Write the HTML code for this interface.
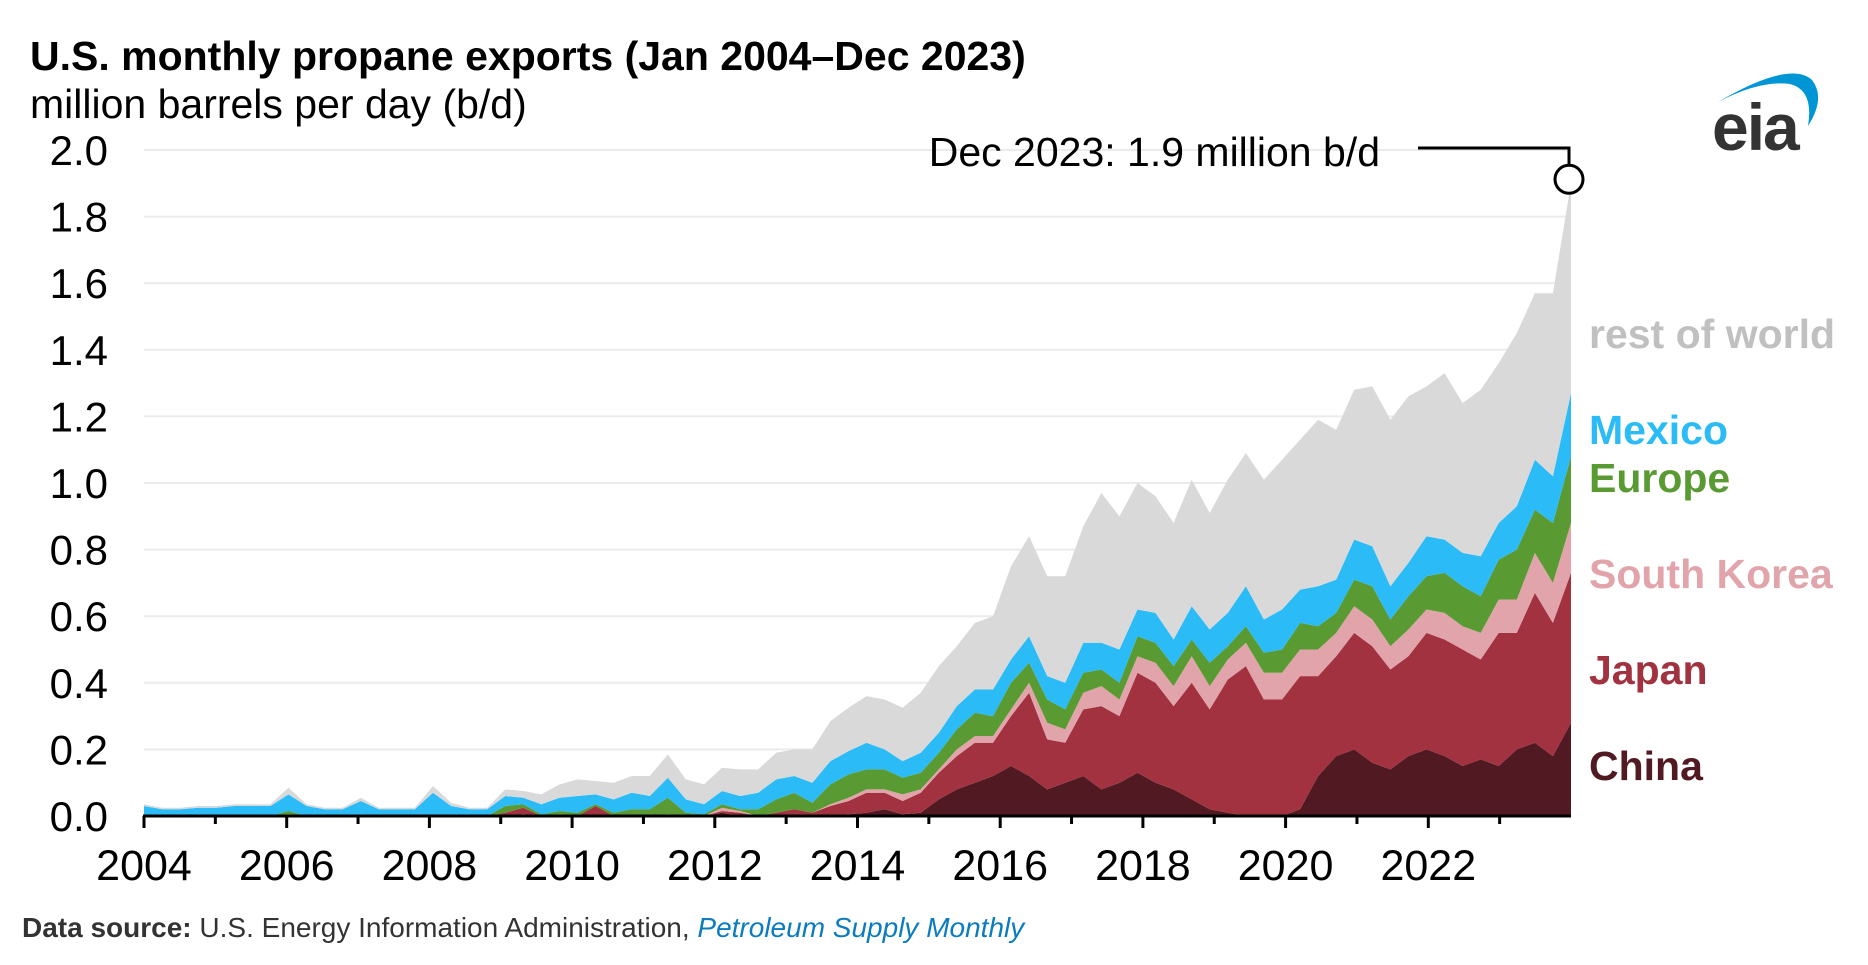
<!DOCTYPE html>
<html><head><meta charset="utf-8"><style>
html,body{margin:0;padding:0;background:#fff;}
body{width:1868px;height:960px;overflow:hidden;font-family:"Liberation Sans",Arial,sans-serif;}
svg text{font-family:"Liberation Sans",Arial,sans-serif;}
</style></head><body>
<svg id="chart" width="1868" height="960" viewBox="0 0 1868 960" xmlns="http://www.w3.org/2000/svg">
<text x="30" y="70" font-size="41" font-weight="bold" fill="#000">U.S. monthly propane exports (Jan 2004–Dec 2023)</text>
<text x="30" y="118" font-size="41" fill="#000">million barrels per day (b/d)</text>
<g id="grid"></g>
<g id="areas"></g>
<g id="yticks"></g>
<g id="xticks"></g>
<g id="labels"></g>
<g>
<path d="M1718 102 Q1790 60 1812 80 Q1826 98 1808 126 Q1814 90 1790 84 Q1760 80 1718 102 Z" fill="#0096d6"/>
<text x="1712" y="150" font-size="66" font-weight="bold" fill="#333" letter-spacing="-2">eia</text>
</g>
<text x="22" y="937" font-size="28" fill="#333"><tspan font-weight="bold">Data source:</tspan> U.S. Energy Information Administration, <tspan font-style="italic" fill="#0a7cbf">Petroleum Supply Monthly</tspan></text>
<g id="annot"></g>
</svg>
<script>
// quarterly values, 2004Q1 .. 2023Q4 (million b/d)
const china = [0,0,0,0, 0,0,0,0, 0,0,0,0, 0,0,0,0, 0,0,0,0,
 0,0.005,0,0, 0,0,0,0, 0,0,0,0, 0.01,0,0,0, 0,0,0,0.005,
 0.01,0.02,0.005,0.01, 0.05,0.08,0.1,0.12, 0.15,0.12,0.08,0.1, 0.12,0.08,0.1,0.13, 0.1,0.08,0.05,0.02,
 0.01,0,0,0, 0.02,0.12,0.18,0.2, 0.16,0.14,0.18,0.2, 0.18,0.15,0.17,0.15, 0.2,0.22,0.18,0.28];
const japan = [0,0,0,0, 0,0,0,0, 0.005,0,0,0, 0,0,0,0, 0,0,0,0,
 0.01,0.02,0,0.005, 0,0.03,0,0, 0,0.005,0,0, 0.005,0.01,0,0.01, 0.02,0.01,0.03,0.04,
 0.06,0.05,0.04,0.06, 0.08,0.1,0.12,0.1, 0.15,0.25,0.15,0.12, 0.2,0.25,0.2,0.3, 0.3,0.25,0.35,0.3,
 0.4,0.45,0.35,0.35, 0.4,0.3,0.3,0.35, 0.35,0.3,0.3,0.35, 0.35,0.35,0.3,0.4, 0.35,0.45,0.4,0.45];
const southKorea = [0,0,0,0, 0,0,0,0, 0,0,0,0, 0,0,0,0, 0,0,0,0,
 0,0,0,0, 0,0,0,0, 0,0,0,0, 0.01,0.005,0,0, 0,0,0.005,0.01,
 0.01,0.01,0.02,0.01, 0.01,0.02,0.02,0.02, 0.02,0.03,0.05,0.04, 0.05,0.06,0.05,0.05, 0.06,0.06,0.08,0.07,
 0.06,0.07,0.08,0.08, 0.08,0.08,0.07,0.08, 0.08,0.07,0.08,0.07, 0.08,0.07,0.08,0.1, 0.1,0.12,0.12,0.15];
const europe = [0,0,0,0, 0,0,0,0, 0.01,0,0,0, 0.005,0,0,0, 0,0,0,0,
 0.02,0.01,0.005,0.01, 0.01,0.005,0.01,0.02, 0.02,0.05,0.01,0.005, 0.01,0.005,0.02,0.04, 0.05,0.03,0.06,0.07,
 0.06,0.06,0.05,0.05, 0.05,0.06,0.07,0.06, 0.08,0.06,0.07,0.06, 0.06,0.05,0.05,0.06, 0.06,0.06,0.05,0.07,
 0.04,0.05,0.06,0.07, 0.08,0.07,0.06,0.08, 0.1,0.08,0.1,0.1, 0.12,0.12,0.11,0.12, 0.15,0.13,0.18,0.2];
const mexico = [0.03,0.02,0.02,0.025, 0.025,0.03,0.03,0.03, 0.05,0.03,0.02,0.02, 0.04,0.02,0.02,0.02, 0.07,0.03,0.02,0.02,
 0.03,0.02,0.03,0.04, 0.05,0.03,0.04,0.05, 0.04,0.06,0.04,0.03, 0.04,0.04,0.05,0.06, 0.05,0.06,0.07,0.07,
 0.08,0.06,0.05,0.06, 0.06,0.07,0.07,0.08, 0.07,0.08,0.07,0.08, 0.09,0.08,0.1,0.08, 0.09,0.08,0.1,0.1,
 0.1,0.12,0.1,0.12, 0.1,0.12,0.1,0.12, 0.12,0.1,0.1,0.12, 0.1,0.1,0.12,0.11, 0.13,0.15,0.14,0.19];
const restOfWorld = [0.005,0.005,0.005,0.005, 0.005,0.005,0.005,0.005, 0.02,0.005,0.005,0.005, 0.01,0.005,0.005,0.005, 0.02,0.01,0.005,0.005,
 0.02,0.02,0.03,0.04, 0.05,0.04,0.05,0.05, 0.06,0.07,0.06,0.06, 0.07,0.08,0.07,0.08, 0.08,0.1,0.12,0.13,
 0.14,0.15,0.16,0.18, 0.2,0.18,0.2,0.22, 0.28,0.3,0.3,0.32, 0.35,0.45,0.4,0.38, 0.35,0.35,0.38,0.35,
 0.4,0.4,0.42,0.45, 0.45,0.5,0.45,0.45, 0.48,0.5,0.5,0.45, 0.5,0.45,0.5,0.48, 0.52,0.5,0.55,0.63];
const seriesNames = ['china','japan','south-korea','europe','mexico','rest-of-world'];
const seriesLabels = ['China','Japan','South Korea','Europe','Mexico','rest of world'];
const yTicks = ['0.0','0.2','0.4','0.6','0.8','1.0','1.2','1.4','1.6','1.8','2.0'];
const xTickYears = [2004,2006,2008,2010,2012,2014,2016,2018,2020,2022];
const annotationText = 'Dec 2023: 1.9 million b/d';

const NS='http://www.w3.org/2000/svg';
const X0=144, X1=1571, Y0=816, Y1=150, YMAX=2.0;
const xYear=t=>X0+(t-2004)/20*(X1-X0);
const yVal=v=>Y0-v/YMAX*(Y0-Y1);
function mk(tag,attrs,parent){const e=document.createElementNS(NS,tag);for(const k in attrs)e.setAttribute(k,attrs[k]);parent.appendChild(e);return e;}
const series=[china,japan,southKorea,europe,mexico,restOfWorld];
const fills=['#511a22','#a2323f','#e2a4ab','#5a9a33','#2bbcf8','#d9d9d9'];
const labelColors=['#511a22','#a2323f','#e2a4ab','#5a9a33','#2bbcf8','#c0c0c0'];
const n=china.length;
const tAt=i=>2004+i*20/(n-1);

const grid=document.getElementById('grid');
const yg=document.getElementById('yticks');
yTicks.forEach(lbl=>{
  const v=parseFloat(lbl);
  if(v>0){const l=mk('line',{x1:X0,x2:X1,y1:yVal(v),y2:yVal(v),stroke:'#ebebeb','stroke-width':2},grid);
  
  }
  const t=mk('text',{x:108,y:yVal(v)+15,'font-size':42,'text-anchor':'end',fill:'#000'},yg);
  
  
  t.textContent=lbl;
});

const ag=document.getElementById('areas');
let base=new Array(n).fill(0);
series.forEach((s,k)=>{
  const top=base.map((b,i)=>b+s[i]);
  let d='M'+xYear(tAt(0))+','+yVal(top[0]);
  for(let i=1;i<n;i++)d+='L'+xYear(tAt(i)).toFixed(1)+','+yVal(top[i]).toFixed(1);
  for(let i=n-1;i>=0;i--)d+='L'+xYear(tAt(i)).toFixed(1)+','+yVal(base[i]).toFixed(1);
  d+='Z';
  const p=mk('path',{d:d,fill:fills[k]},ag);
  
  
  base=top;
});

const xg=document.getElementById('xticks');
const ax=mk('line',{x1:X0-1,x2:X1,y1:Y0,y2:Y0,stroke:'#000','stroke-width':3},xg);


for(let yr=2004;yr<=2023;yr++){
  const tk=mk('line',{x1:xYear(yr),x2:xYear(yr),y1:Y0,y2:Y0+(yr%2===0?12:8),stroke:'#000','stroke-width':3},xg);
  
  
}
xTickYears.forEach(yr=>{
  const t=mk('text',{x:xYear(yr),y:880,'font-size':43,'text-anchor':'middle',fill:'#000'},xg);
  
  
  t.textContent=yr;
});

const lg=document.getElementById('labels');
const labelY=[766,670,574,478,430,334];
seriesLabels.forEach((s,k)=>{
  const t=mk('text',{x:1589,y:labelY[k]+14,'font-size':41,'font-weight':'bold',fill:labelColors[k]},lg);
  
  
  t.textContent=s;
});

const an=document.getElementById('annot');
let total=0;series.forEach(s=>total+=s[n-1]);
const cx=xYear(tAt(n-1))-2, cy=yVal(total)-4;
const at=mk('text',{x:1380,y:166,'font-size':41,'text-anchor':'end',fill:'#000'},an);


at.textContent=annotationText;
const al=mk('path',{d:'M1418,148 L'+cx+',148 L'+cx+','+(cy-14),fill:'none',stroke:'#000','stroke-width':3},an);


const ac=mk('circle',{cx:cx,cy:cy,r:14,fill:'#fff',stroke:'#000','stroke-width':3},an);


</script>
</body></html>
